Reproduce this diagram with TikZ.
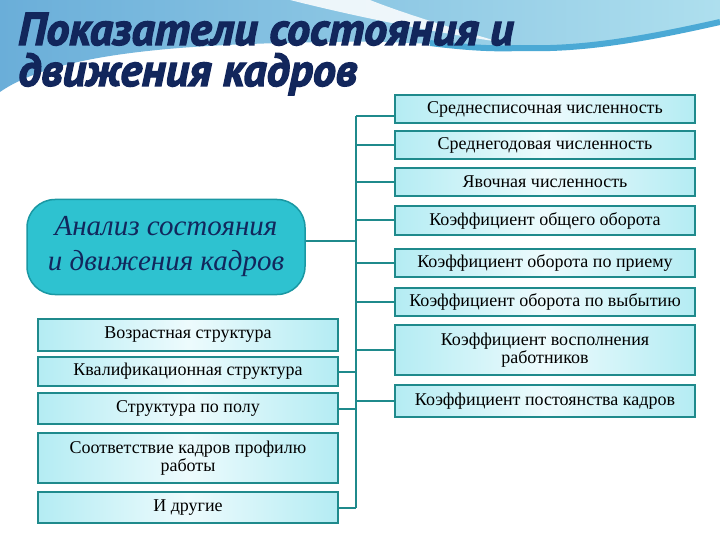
\documentclass[tikz,border=0pt]{standalone}
\usepackage{fontspec}
\setmainfont{Liberation Serif}
\newfontfamily\titlefont{PT Sans}
\usetikzlibrary{positioning}

\definecolor{boxline}{HTML}{1F8A8C}
\definecolor{boxfill}{HTML}{B4ECF3}
\definecolor{boxmid}{HTML}{EDFBFD}
\definecolor{mainfill}{HTML}{2EC2D0}
\definecolor{maindraw}{HTML}{1A98A3}
\definecolor{navy}{HTML}{12275C}
\definecolor{skyblue}{HTML}{6AAED9}
\definecolor{palecyan}{HTML}{AEDFEE}
\definecolor{waveblue}{HTML}{4BA9D5}

% heavy title text (fill + stroke)
\newcommand\heavy[1]{\special{pdf:literal direct 2 Tr 1.3 w 0.07 0.15 0.36 RG}#1\special{pdf:literal direct 0 Tr}}

\begin{document}
\begin{tikzpicture}[x=1pt, y=-1pt,
    box/.style={draw=boxline, line width=2pt, left color=boxfill, right color=boxfill,
      middle color=boxmid, minimum width=300pt, inner sep=1pt, align=center,
      font=\fontsize{18}{18}\selectfont},
    main node/.style={draw=maindraw, line width=1.5pt, fill=mainfill, rounded corners=28pt,
      minimum width=278pt, minimum height=95pt, align=center, text=navy,
      font=\itshape\fontsize{29}{35}\selectfont},
    title/.style={anchor=base west, inner sep=0pt, text=navy,
      font=\titlefont\bfseries\itshape\fontsize{46}{46}\selectfont},
    link/.style={draw=boxline, line width=2pt}]

  \useasboundingbox (0,0) rectangle (720,540);
  \fill[white] (0,0) rectangle (720,540);

  % background waves
  \shade[left color=skyblue, right color=palecyan]
    (0,0) -- (720,0) -- (720,22) .. controls (640,40) and (580,50) .. (520,48)
    .. controls (440,46) and (400,40) .. (330,42)
    .. controls (200,44) and (60,50) .. (0,92) -- cycle;
  \fill[white, opacity=0.85] (290,0) .. controls (350,15) and (420,30) .. (500,42)
    .. controls (430,22) and (390,8) .. (370,0) -- cycle;
  \draw[waveblue, line width=6pt] (430,43) .. controls (470,48) and (495,49) .. (520,48)
    .. controls (580,50) and (640,40) .. (720,22);

  % title
  \node[title] (title1) at (18,45) {\heavy{Показатели состояния и}};
  \node[title] (title2) at (18,86) {\heavy{движения кадров}};

  % main node
  \node[main node] (main) at (166,247) {Анализ состояния\\и движения кадров};

  % right column
  \node[box, minimum height=28pt] (r1) at (545,109) {Среднесписочная численность};
  \node[box, minimum height=28pt] (r2) at (545,145) {Среднегодовая численность};
  \node[box, minimum height=28pt] (r3) at (545,182) {Явочная численность};
  \node[box, minimum height=29pt] (r4) at (545,220.5) {Коэффициент общего оборота};
  \node[box, minimum height=28pt] (r5) at (545,263) {Коэффициент оборота по приему};
  \node[box, minimum height=28pt] (r6) at (545,302) {Коэффициент оборота по выбытию};
  \node[box, minimum height=50pt] (r7) at (545,350) {Коэффициент восполнения\\работников};
  \node[box, minimum height=32pt] (r8) at (545,401) {Коэффициент постоянства кадров};

  % left column
  \node[box, minimum height=32pt] (l1) at (188,335) {Возрастная структура};
  \node[box, minimum height=29pt] (l2) at (188,371.5) {Квалификационная структура};
  \node[box, minimum height=31pt] (l3) at (188,408.5) {Структура по полу};
  \node[box, minimum height=50pt] (l4) at (188,458) {Соответствие кадров профилю\\работы};
  \node[box, minimum height=31pt] (l5) at (188,507.5) {И другие};

  % connectors
  \coordinate (trunk top) at (356,116);
  \coordinate (trunk bot) at (356,507.5);
  \path[link] (trunk top) -- (trunk bot);
  \path[link] ([yshift=-7pt]r1.west) -- (trunk top);
  \foreach \n in {r2,r3,r4,r5,r6,r7,r8}
    \path[link] (\n.west) -- (\n.west -| trunk top);
  \foreach \n in {l2,l3,l5}
    \path[link] (\n.east) -- (\n.east -| trunk top);
  \path[link] (main.east |- 0,241) -- (trunk top |- 0,241);
\end{tikzpicture}
\end{document}
